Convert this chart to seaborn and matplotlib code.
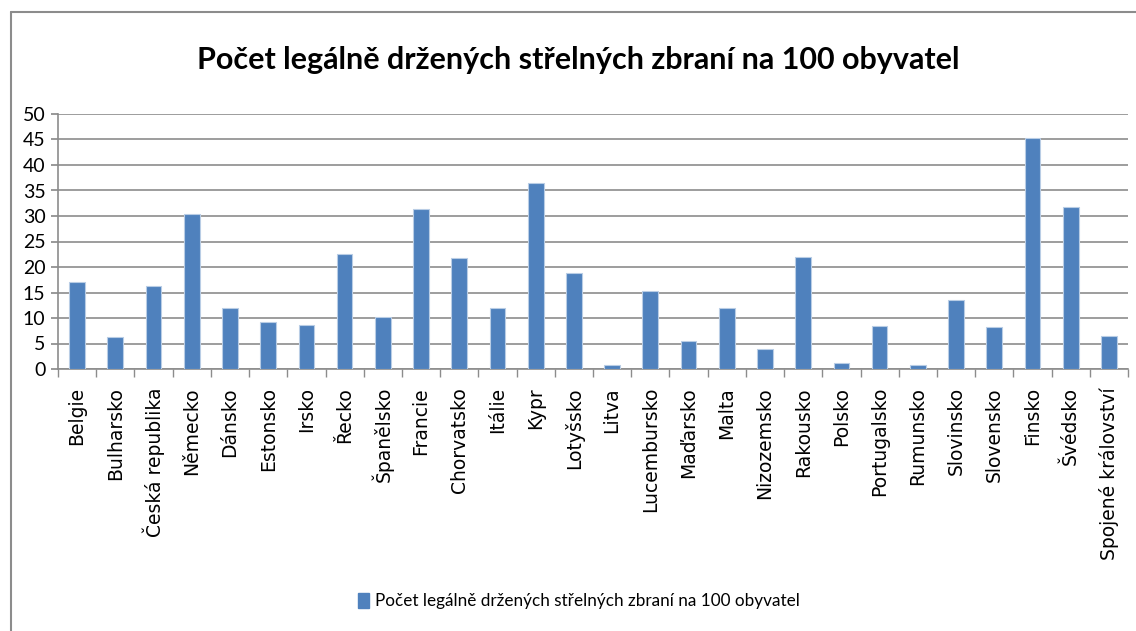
import numpy as np
import pandas as pd
import matplotlib
matplotlib.use('Agg')
import matplotlib.pyplot as plt
from matplotlib.lines import Line2D
from matplotlib.patches import Patch
import seaborn as sns

zeme = ['Belgie', 'Bulharsko', 'Česká republika', 'Německo', 'Dánsko', 'Estonsko',
        'Irsko', 'Řecko', 'Španělsko', 'Francie', 'Chorvatsko', 'Itálie', 'Kypr',
        'Lotyšsko', 'Litva', 'Lucembursko', 'Maďarsko', 'Malta', 'Nizozemsko',
        'Rakousko', 'Polsko', 'Portugalsko', 'Rumunsko', 'Slovinsko', 'Slovensko',
        'Finsko', 'Švédsko', 'Spojené království']
zbrane = [17.1, 6.2, 16.2, 30.3, 11.9, 9.2, 8.7, 22.5, 10.2, 31.3, 21.7, 11.9, 36.5,
          18.9, 0.7, 15.3, 5.5, 11.9, 3.9, 21.9, 1.2, 8.4, 0.7, 13.5, 8.2, 45.3,
          31.7, 6.4]
nazev = 'Počet legálně držených střelných zbraní na 100 obyvatel'

df = pd.DataFrame({'zeme': zeme, 'zbrane': zbrane})

sns.set_theme(style='white')
plt.rcParams['font.family'] = ['DejaVu Sans']
plt.rcParams['text.color'] = 'black'
plt.rcParams['xtick.color'] = 'black'
plt.rcParams['ytick.color'] = 'black'

fig = plt.figure(figsize=(11.36, 6.31), dpi=100)
ax = fig.add_axes([58 / 1136, 1 - 369 / 631, (1128 - 58) / 1136, (369 - 114) / 631])

sns.barplot(data=df, x='zeme', y='zbrane', color='#4F81BD', saturation=1,
            width=0.41, edgecolor='#B9CDE5', linewidth=0.8, ax=ax, zorder=3)

ax.set_ylim(0, 50)
ax.set_xlim(-0.5, len(zeme) - 0.5)
ax.set_yticks(np.arange(0, 51, 5))
ax.yaxis.grid(True, color='#8C8C8C', linewidth=1.2, zorder=0)
ax.set_axisbelow(True)
ax.set_xlabel('')
ax.set_ylabel('')

for s in ['top', 'right']:
    ax.spines[s].set_visible(False)
for s in ['left', 'bottom']:
    ax.spines[s].set_color('#8C8C8C')
    ax.spines[s].set_linewidth(1.2)

ax.set_xticks(range(len(zeme)))
ax.set_xticklabels(zeme, rotation=90, fontsize=13.5, color='black')
ax.set_xticks(np.arange(-0.5, len(zeme), 1), minor=True)
ax.tick_params(axis='x', which='major', length=0, pad=13)
ax.tick_params(axis='x', which='minor', length=6, color='#8C8C8C', direction='out', bottom=True)
ax.tick_params(axis='y', length=5, color='#8C8C8C', direction='out', left=True, pad=4)
for t in ax.get_yticklabels():
    t.set_fontfamily(['Lato', 'DejaVu Sans'])
    t.set_fontsize(14)
    t.set_color('black')

fig.text(0.509, 1 - 60 / 631, nazev, ha='center', va='center', fontsize=22,
         fontweight='bold', color='black', family=['Lato', 'DejaVu Sans'])

leg = fig.legend(handles=[Patch(facecolor='#4F81BD', edgecolor='#4F81BD', label=nazev)],
                 loc='center', bbox_to_anchor=(0.51, 1 - 601 / 631), frameon=False,
                 handlelength=0.6, handleheight=1.0, handletextpad=0.4,
                 prop={'family': ['Lato', 'DejaVu Sans'], 'size': 12.3})
for t in leg.get_texts():
    t.set_color('black')

# chart frame like Excel
fig.add_artist(Line2D([11 / 1136, 1], [1 - 12 / 631, 1 - 12 / 631], transform=fig.transFigure,
                      color='#8C8C8C', linewidth=1.5))
fig.add_artist(Line2D([11 / 1136, 11 / 1136], [0, 1 - 12 / 631], transform=fig.transFigure,
                      color='#8C8C8C', linewidth=1.5))

plt.savefig('out.png', dpi=100)
